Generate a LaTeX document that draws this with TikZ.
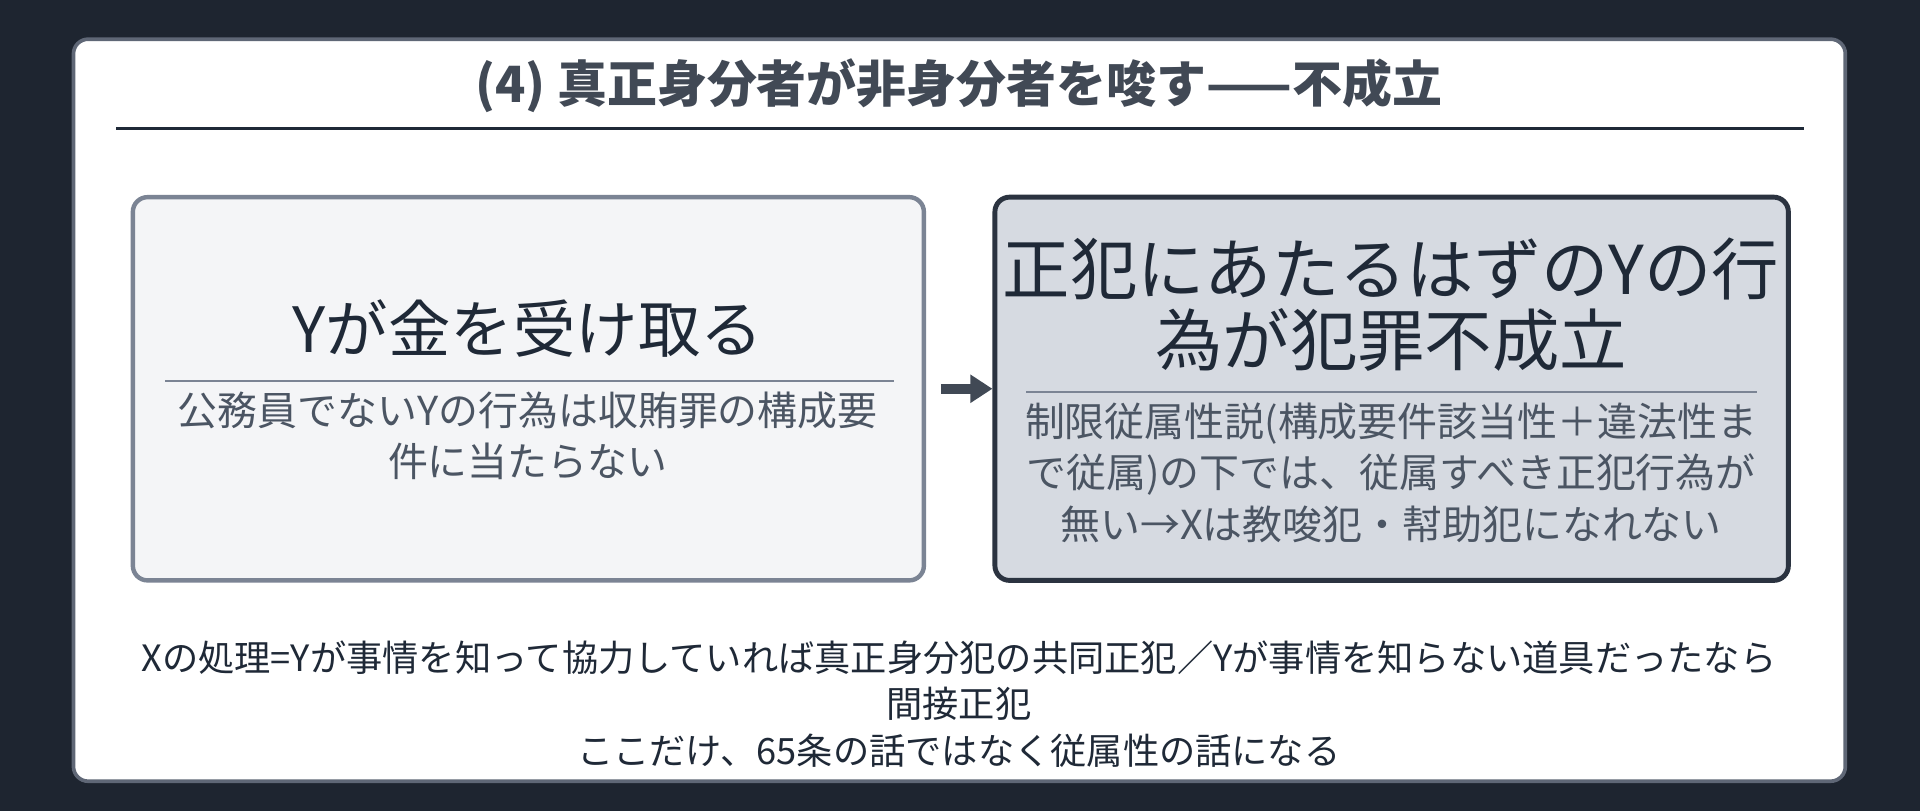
\documentclass[tikz,border=0pt]{standalone}
\usetikzlibrary{arrows.meta}
\usepackage{fontspec}
\setmainfont{Noto Sans CJK JP}
\begin{document}
\begin{tikzpicture}[x=0.5pt,y=-0.5pt,
  txt/.style={inner sep=0pt,align=center,font=#1},
  sub/.style={inner sep=0pt,align=center,text=subc,font=\fontsize{16.3pt}{21pt}\selectfont}]
\definecolor{bgc}{HTML}{1E2530}
\definecolor{dk}{HTML}{1F2937}
\definecolor{subc}{HTML}{4B5563}
\definecolor{lf}{HTML}{F4F5F7}
\definecolor{lb}{HTML}{7B8494}
\definecolor{rf}{HTML}{D6DAE1}
\definecolor{rb}{HTML}{2B3340}
\useasboundingbox (0,0) rectangle (1568,662);
\fill[bgc] (0,0) rectangle (1568,662);
\draw[line width=1.5pt,draw=lb!70!bgc,fill=white,rounded corners=6pt] (60,32) rectangle (1507,638);
\node[txt={\fontsize{20.4pt}{24pt}\selectfont\bfseries},text=dk!85!white] (title) at (783,70) {(4) 真正身分者が非身分者を唆す——不成立};
\draw[dk,line width=1pt] (95,105) -- (1473,105);
\node[draw=lb,line width=1.8pt,fill=lf,rounded corners=6pt,minimum width=646*0.5pt,minimum height=313*0.5pt,inner sep=0pt] (L) at (431.5,317.5) {};
\node[draw=rb,line width=2pt,fill=rf,rounded corners=6pt,minimum width=648*0.5pt,minimum height=313*0.5pt,inner sep=0pt] (R) at (1136.5,317.5) {};
\node[txt={\fontsize{25.5pt}{30pt}\selectfont},text=dk] (Lm) at (431,268) {Yが金を受け取る};
\draw[lb,line width=0.8pt] (135,311) -- (730,311);
\node[sub] (Ls) at (431,356) {公務員でないYの行為は収賄罪の構成要\\件に当たらない};
\node[txt={\fontsize{27.5pt}{29pt}\selectfont},text=dk] (Rm) at (1136,249) {正犯にあたるはずのYの行\\為が犯罪不成立};
\draw[lb,line width=0.8pt] (838,320) -- (1435,320);
\node[sub] (Rs) at (1136,386) {制限従属性説(構成要件該当性＋違法性ま\\で従属)の下では、従属すべき正犯行為が\\無い→Xは教唆犯・幇助犯になれない};
\coordinate (a) at ([xshift=6pt]L.east);
\draw[dk!85!white,line width=4pt,-{Triangle[length=9pt,width=11pt]}] (a) -- (R.west);
\node[txt={\fontsize{14.8pt}{19pt}\selectfont},text=dk] (bot) at (783,575) {Xの処理=Yが事情を知って協力していれば真正身分犯の共同正犯／Yが事情を知らない道具だったなら\\間接正犯\\ここだけ、65条の話ではなく従属性の話になる};
\end{tikzpicture}
\end{document}
